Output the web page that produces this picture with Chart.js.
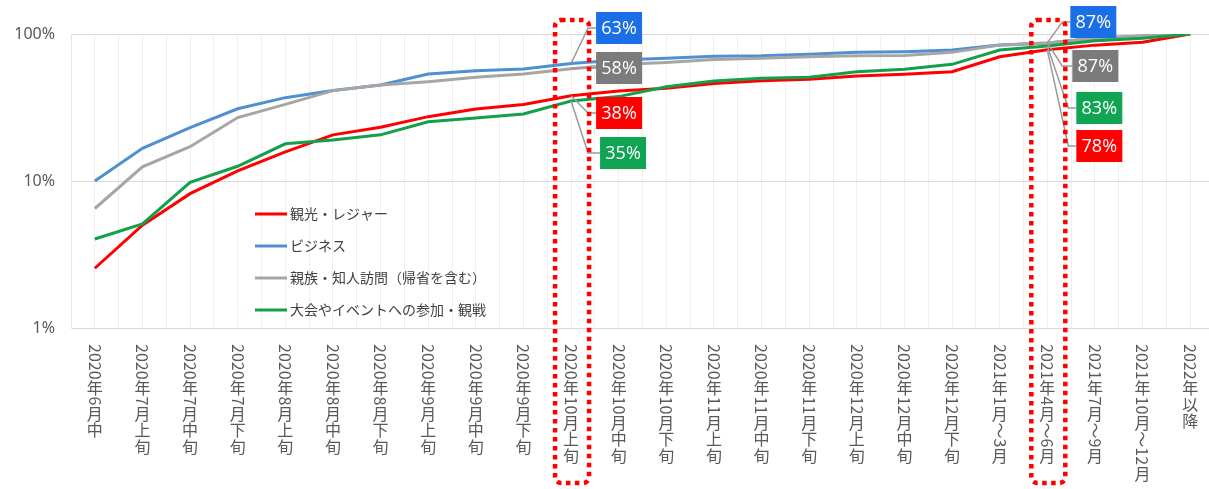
<!DOCTYPE html>
<html lang="ja">
<head>
<meta charset="utf-8">
<script src="https://cdn.jsdelivr.net/npm/chart.js@4.4.1/dist/chart.umd.min.js"></script>
<style>
  html, body { margin: 0; padding: 0; background: #fff; overflow: hidden; }
  #wrap { position: relative; width: 1216px; height: 489px; }
</style>
</head>
<body>
<div id="wrap"><canvas id="chart"></canvas></div>
<script>
const periods = [
  '2020年6月中', '2020年7月上旬', '2020年7月中旬', '2020年7月下旬',
  '2020年8月上旬', '2020年8月中旬', '2020年8月下旬', '2020年9月上旬',
  '2020年9月中旬', '2020年9月下旬', '2020年10月上旬', '2020年10月中旬',
  '2020年10月下旬', '2020年11月上旬', '2020年11月中旬', '2020年11月下旬',
  '2020年12月上旬', '2020年12月中旬', '2020年12月下旬', '2021年1月～3月',
  '2021年4月～6月', '2021年7月～9月', '2021年10月～12月', '2022年以降'
];
const seriesNames = ['観光・レジャー', 'ビジネス', '親族・知人訪問（帰省を含む）', '大会やイベントへの参加・観戦'];

// cumulative share (%)
const leisure  = [2.55, 5.0, 8.2, 11.7, 15.8, 20.6, 23.2, 27.4, 30.9, 33.2, 38, 41, 42.7, 46, 48.1, 49.2, 51.8, 53.2, 55.4, 70, 78, 84, 88, 100];
const business = [10, 16.7, 23.1, 31, 36.9, 41.2, 45, 53.5, 56.3, 57.8, 63, 66.5, 68.5, 70.5, 71, 72.7, 75, 75.8, 77.8, 84.2, 87, 93.5, 97, 100];
const family   = [6.5, 12.5, 17.1, 27, 33.2, 41.2, 45, 47.4, 50.7, 53.5, 58, 62, 64, 67, 68.5, 70, 71.2, 71.5, 75, 84, 87, 93.5, 97, 100];
const events   = [4.03, 5.1, 9.8, 12.6, 17.9, 19, 20.6, 25.3, 26.8, 28.6, 35, 37.5, 43.8, 47.9, 50, 50.7, 55.4, 57.5, 62.2, 77.8, 83, 90, 93.5, 100];

const yTicks = [1, 10, 100];
const highlighted = ['2020年10月上旬', '2021年4月～6月'];

const colors = ['#ff0000', '#5090d0', '#a6a6a6', '#12a04c'];
const boxColors = ['#ff0000', '#1a6fe6', '#7b7b7b', '#10a552'];

// callout boxes: ds = dataset index, dx = box left from point, top = box top, ex = elbow x from point
const callouts = [
  { period: '2020年10月上旬', items: [
    { ds: 1, dx: 25, top: 12, ex: 17 },
    { ds: 2, dx: 25, top: 52, ex: 17 },
    { ds: 0, dx: 25, top: 97, ex: 17 },
    { ds: 3, dx: 29, top: 137, ex: 17 }
  ]},
  { period: '2021年4月～6月', items: [
    { ds: 1, dx: 23, top: 6, ex: 15 },
    { ds: 2, dx: 25, top: 50, ex: 15 },
    { ds: 3, dx: 29, top: 92, ex: 21 },
    { ds: 0, dx: 29, top: 130, ex: 21 }
  ]}
];

Chart.defaults.font.family = '"Noto Sans CJK JP", "Noto Sans", sans-serif';

/* vertical x labels: digits and ～ turned sideways, kanji upright */
const verticalTicks = {
  id: 'verticalTicks',
  afterDraw(chart) {
    const ctx = chart.ctx, sx = chart.scales.x;
    ctx.save();
    ctx.font = '16px "Noto Sans CJK JP"';
    ctx.fillStyle = '#595959';
    periods.forEach((label, i) => {
      const x = sx.getPixelForValue(i);
      let y = 344;
      label.match(/[0-9～]+|[^0-9～]/g).forEach(run => {
        if (/[0-9～]/.test(run)) {
          const w = ctx.measureText(run).width;
          ctx.save();
          ctx.translate(x, y);
          ctx.rotate(Math.PI / 2);
          ctx.textAlign = 'left';
          ctx.textBaseline = 'middle';
          ctx.fillText(run, 0, 0);
          ctx.restore();
          y += w + 0.5;
        } else {
          ctx.textAlign = 'center';
          ctx.textBaseline = 'top';
          ctx.fillText(run, x, y);
          y += 16.5;
        }
      });
    });
    ctx.restore();
  }
};

/* legend inside the plot */
const innerLegend = {
  id: 'innerLegend',
  afterDatasetsDraw(chart) {
    const ctx = chart.ctx;
    ctx.save();
    ctx.font = '14px "Noto Sans CJK JP"';
    ctx.textBaseline = 'middle';
    chart.data.datasets.forEach((ds, i) => {
      const y = 214 + i * 32;
      ctx.strokeStyle = ds.borderColor;
      ctx.lineWidth = 3;
      ctx.beginPath();
      ctx.moveTo(255, y);
      ctx.lineTo(287, y);
      ctx.stroke();
      ctx.fillStyle = '#404040';
      ctx.fillText(ds.label, 290, y);
    });
    ctx.restore();
  }
};

/* value boxes with leader lines */
const calloutBoxes = {
  id: 'calloutBoxes',
  afterDatasetsDraw(chart) {
    const ctx = chart.ctx;
    ctx.save();
    callouts.forEach(c => {
      const i = periods.indexOf(c.period);
      c.items.forEach(it => {
        const pt = chart.getDatasetMeta(it.ds).data[i];
        const bx = pt.x + it.dx, w = 46, h = 32, my = it.top + h / 2;
        ctx.strokeStyle = '#9a9a9a';
        ctx.lineWidth = 1.5;
        ctx.beginPath();
        ctx.moveTo(pt.x, pt.y);
        ctx.lineTo(pt.x + it.ex, my);
        ctx.lineTo(bx, my);
        ctx.stroke();
        ctx.fillStyle = boxColors[it.ds];
        ctx.fillRect(bx, it.top, w, h);
        ctx.fillStyle = '#fff';
        ctx.font = '18px "Open Sans"';
        ctx.textAlign = 'center';
        ctx.textBaseline = 'middle';
        ctx.fillText(chart.data.datasets[it.ds].data[i] + '%', bx + w / 2, my + 1);
      });
    });
    ctx.restore();
  }
};

/* red dotted frames around the highlighted periods */
const dottedFrames = {
  id: 'dottedFrames',
  afterDraw(chart) {
    const ctx = chart.ctx, sx = chart.scales.x;
    ctx.save();
    ctx.strokeStyle = '#ff0000';
    ctx.lineWidth = 4.5;
    ctx.setLineDash([4.5, 4.5]);
    highlighted.forEach(p => {
      const cx = sx.getPixelForValue(periods.indexOf(p));
      ctx.beginPath();
      ctx.roundRect(cx - 16, 20, 34, 463, 6);
      ctx.stroke();
    });
    ctx.restore();
  }
};

new Chart(document.getElementById('chart'), {
  type: 'line',
  data: {
    labels: periods,
    datasets: [leisure, business, family, events].map((d, i) => ({
      label: seriesNames[i],
      data: d,
      borderColor: colors[i],
      backgroundColor: colors[i],
      borderWidth: 3,
      pointRadius: 0,
      tension: 0,
      order: 4 - i
    }))
  },
  options: {
    responsive: true,
    maintainAspectRatio: false,
    animation: false,
    layout: { padding: { top: 34, bottom: 161, right: 2, left: 0 } },
    plugins: { legend: { display: false }, tooltip: { enabled: false } },
    scales: {
      x: {
        offset: true,
        ticks: { display: false },
        grid: { color: '#f0f0f0', offset: true, drawTicks: false },
        border: { display: false }
      },
      x2: {
        type: 'category',
        labels: periods,
        position: 'bottom',
        offset: true,
        ticks: { display: false },
        grid: { color: '#f0f0f0', offset: false, drawTicks: false },
        border: { display: false }
      },
      y: {
        type: 'logarithmic',
        min: 1,
        max: 100,
        afterBuildTicks: s => { s.ticks = yTicks.map(v => ({ value: v })); },
        afterFit: s => { s.width = 71; },
        ticks: {
          callback: v => v + '%',
          color: '#595959',
          padding: 16,
          font: { size: 16, family: '"Noto Sans", sans-serif' }
        },
        grid: { color: '#d9d9d9', drawTicks: false },
        border: { color: '#e6e6e6' }
      }
    }
  },
  plugins: [verticalTicks, innerLegend, calloutBoxes, dottedFrames]
});
</script>
</body>
</html>
